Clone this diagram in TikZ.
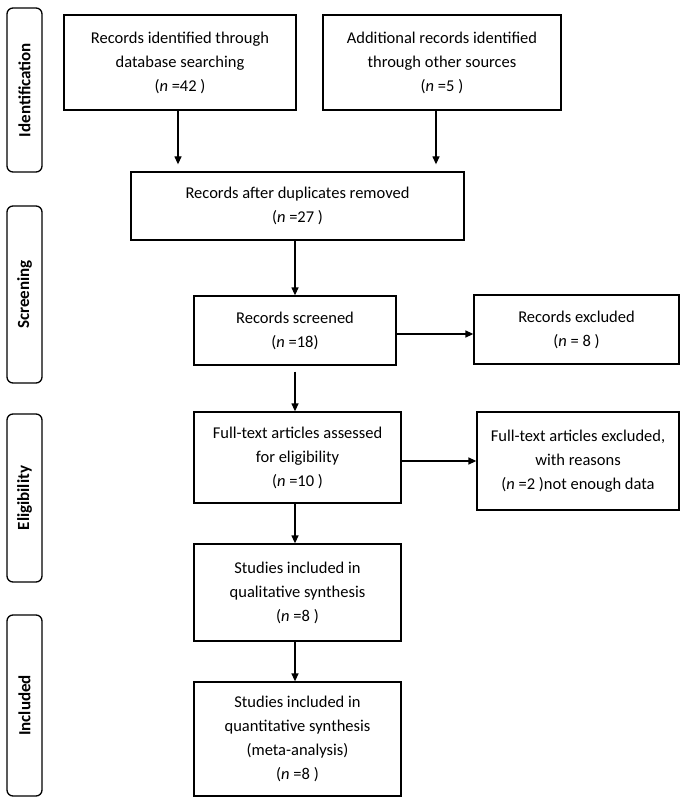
\documentclass[tikz,border=0pt]{standalone}
\usepackage{fontspec}
\setmainfont{Carlito}
\usetikzlibrary{arrows.meta,calc}
\begin{document}
\begin{tikzpicture}[x=1pt,y=-1pt,
  box/.style={draw=black,line width=1.3pt,inner sep=0pt,align=center,
    font=\fontsize{16.5}{24}\selectfont},
  side/.style={draw=black,line width=1.3pt,rounded corners=6pt,inner sep=0pt,
    minimum width=35pt,font=\fontsize{17}{20}\selectfont\bfseries},
  arr/.style={line width=1.3pt,-{Triangle[length=8pt,width=7pt]}}]
\useasboundingbox[fill=white] (0,0) rectangle (684,802);
% side labels
\node[side,minimum height=164pt] (sid) at (24.5,90) {};
\node[rotate=90,font=\fontsize{17}{20}\selectfont\bfseries] (tid) at (sid) {Identification};
\node[side,minimum height=177pt] (sscr) at (24.5,294.5) {};
\node[rotate=90,font=\fontsize{17}{20}\selectfont\bfseries] (tscr) at (sscr) {Screening};
\node[side,minimum height=168pt] (seli) at (24.5,498) {};
\node[rotate=90,font=\fontsize{17}{20}\selectfont\bfseries] (teli) at (seli) {Eligibility};
\node[side,minimum height=181pt] (sinc) at (24.5,705.5) {};
\node[rotate=90,font=\fontsize{17}{20}\selectfont\bfseries] (tinc) at (sinc) {Included};
% boxes
\node[box,minimum width=232pt,minimum height=95pt] (b1) at (180,62.5)
  {Records identified through\\database searching\\(\textit{n} =42 )};
\node[box,minimum width=238pt,minimum height=95pt] (b2) at (442,62.5)
  {Additional records identified\\through other sources\\(\textit{n} =5 )};
\node[box,minimum width=333pt,minimum height=68pt] (b3) at (297.5,206)
  {Records after duplicates removed\\(\textit{n} =27 )};
\node[box,minimum width=202pt,minimum height=69pt] (b4) at (295,330.5)
  {Records screened\\(\textit{n} =18)};
\node[box,minimum width=205pt,minimum height=69pt] (b5) at (576.5,329.5)
  {Records excluded\\(\textit{n} = 8 )};
\node[box,minimum width=207pt,minimum height=91pt] (b6) at (297.5,457.5)
  {Full-text articles assessed\\for eligibility\\(\textit{n} =10 )};
\node[box,minimum width=202pt,minimum height=98pt] (b7) at (578,461)
  {Full-text articles excluded,\\with reasons\\(\textit{n} =2 )not enough data};
\node[box,minimum width=207pt,minimum height=97pt] (b8) at (297.5,592.5)
  {Studies included in\\qualitative synthesis\\(\textit{n} =8 )};
\node[box,minimum width=207pt,minimum height=114pt] (b9) at (297.5,739)
  {Studies included in\\quantitative synthesis\\(meta-analysis)\\(\textit{n} =8 )};
% arrows
\draw[arr,shorten >=7pt] ([xshift=-2pt]b1.south) -- ([xshift=-2pt]b1.south |- b3.north);
\draw[arr,shorten >=7pt] ([xshift=-6pt]b2.south) -- ([xshift=-6pt]b2.south |- b3.north);
\draw[arr] (b3.south -| b4.north) -- (b4.north);
\draw[arr] ([yshift=-3.5pt]b4.east) -- ([yshift=-3.5pt]b4.east -| b5.west);
\draw[arr,shorten <=6pt] (b4.south) -- (b4.south |- b6.north);
\draw[arr] (b6.east |- b7.west) -- (b7.west);
\draw[arr] (b6.south -| b4.south) -- (b4.south |- b8.north);
\draw[arr] (b8.south -| b4.south) -- (b4.south |- b9.north);
\end{tikzpicture}
\end{document}
